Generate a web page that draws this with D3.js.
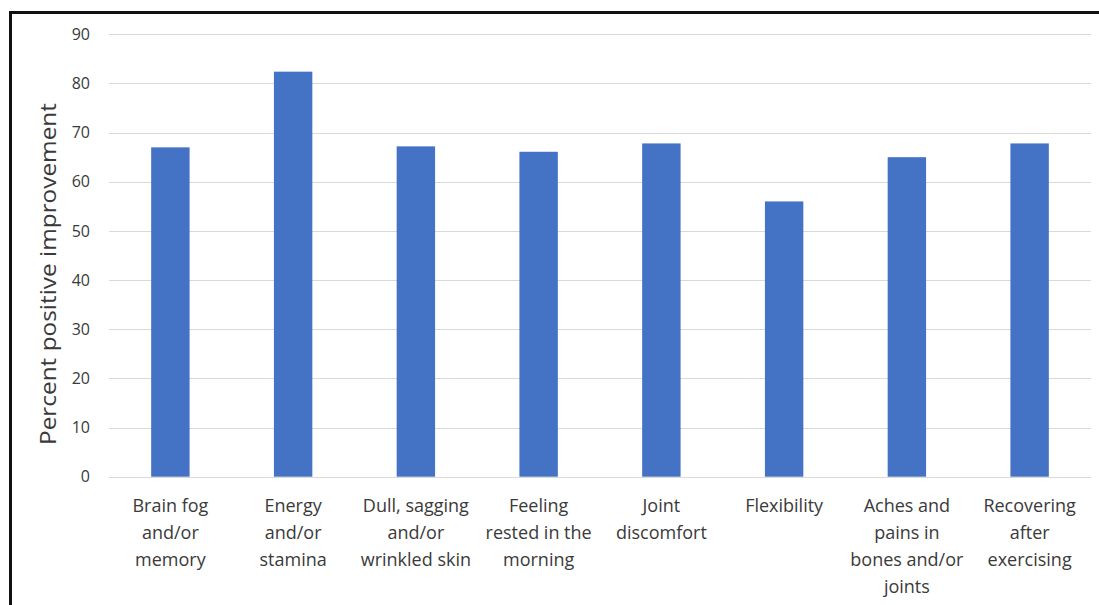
<!DOCTYPE html>
<html>
<head>
<meta charset="utf-8">
<script src="https://cdn.jsdelivr.net/npm/d3@7"></script>
<style>
  html, body { margin: 0; padding: 0; background: #fff; }
  svg { display: block; }
  text { font-family: "Open Sans", "Noto Sans", sans-serif; fill: #3a3a3a; }
</style>
</head>
<body>
<svg id="chart" width="1099" height="605"></svg>
<script>
// Share of respondents reporting improvement, by symptom area
const categories = [
  ["Brain fog", "and/or", "memory"],
  ["Energy", "and/or", "stamina"],
  ["Dull, sagging", "and/or", "wrinkled skin"],
  ["Feeling", "rested in the", "morning"],
  ["Joint", "discomfort"],
  ["Flexibility"],
  ["Aches and", "pains in", "bones and/or", "joints"],
  ["Recovering", "after", "exercising"]
];
const values = [67.0, 82.4, 67.2, 66.1, 67.8, 56.0, 65.0, 67.8];
const yTicks = [0, 10, 20, 30, 40, 50, 60, 70, 80, 90];
const yTitle = "Percent positive improvement";

const svg = d3.select("#chart");
const plot = { left: 109, right: 1091, top: 34.3, bottom: 476.7 };

const x = d3.scaleBand()
  .domain(d3.range(categories.length))
  .range([plot.left, plot.right])
  .paddingInner(0.687)
  .paddingOuter(0.3435);

const y = d3.scaleLinear()
  .domain([0, 90])
  .range([plot.bottom, plot.top]);

// frame lines along the top and left edges
svg.append("line").attr("x1", 9).attr("x2", 1099).attr("y1", 12.5).attr("y2", 12.5)
  .attr("stroke", "#111").attr("stroke-width", 3);
svg.append("line").attr("x1", 10.5).attr("x2", 10.5).attr("y1", 11).attr("y2", 605)
  .attr("stroke", "#111").attr("stroke-width", 3);

// horizontal gridlines
svg.append("g")
  .selectAll("line")
  .data(yTicks)
  .join("line")
  .attr("x1", plot.left)
  .attr("x2", plot.right)
  .attr("y1", d => Math.round(y(d)) + 0.5)
  .attr("y2", d => Math.round(y(d)) + 0.5)
  .attr("stroke", "#d9d9d9")
  .attr("stroke-width", 1);

// y axis tick labels
const yAxis = d3.axisLeft(y).tickValues(yTicks).tickSize(0).tickPadding(0);
const yg = svg.append("g").attr("transform", `translate(${plot.left - 19},0)`).call(yAxis);
yg.select(".domain").remove();
yg.selectAll("text")
  .style("font-family", "'Open Sans', 'Noto Sans', sans-serif")
  .style("font-size", "16px")
  .attr("fill", "#3a3a3a");

// bars
svg.append("g")
  .selectAll("rect")
  .data(values)
  .join("rect")
  .attr("x", (d, i) => x(i))
  .attr("width", x.bandwidth())
  .attr("y", d => y(d))
  .attr("height", d => y(0) - y(d))
  .attr("fill", "#4472c4");

// category labels, multi-line
const labelG = svg.append("g");
categories.forEach((lines, i) => {
  const cx = x(i) + x.bandwidth() / 2;
  const t = labelG.append("text")
    .attr("text-anchor", "middle")
    .style("font-size", "18px");
  lines.forEach((ln, j) => {
    t.append("tspan")
      .attr("x", cx)
      .attr("y", 512 + j * 27)
      .text(ln);
  });
});

// y axis title
svg.append("text")
  .attr("transform", `translate(56,${274}) rotate(-90)`)
  .attr("text-anchor", "middle")
  .attr("textLength", 342)
  .attr("lengthAdjust", "spacingAndGlyphs")
  .style("font-size", "21px")
  .text(yTitle);
</script>
</body>
</html>
